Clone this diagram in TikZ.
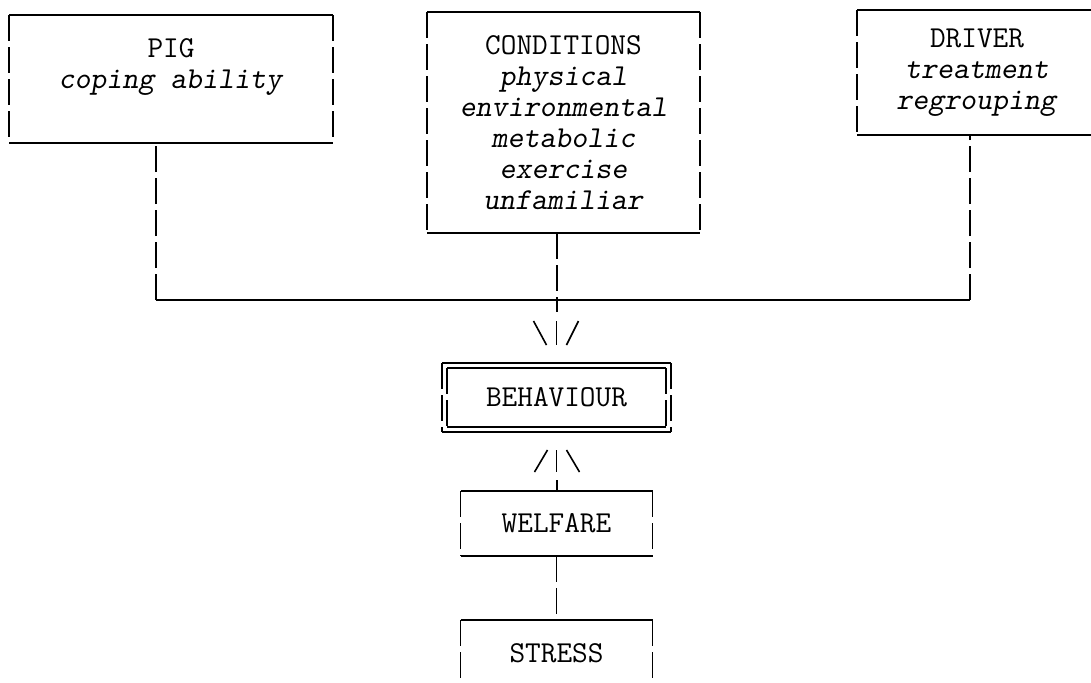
\documentclass[tikz,border=0pt]{standalone}
\usepackage{fontspec}
\usetikzlibrary{positioning,fit}

% typed box: solid top and bottom, dashed sides
\newcommand{\typebox}[1]{%
  \draw[topline] (#1.north west) -- (#1.north east);
  \draw[topline] (#1.south west) -- (#1.south east);
  \draw[sideline] (#1.north west) -- (#1.south west);
  \draw[sideline] (#1.north east) -- (#1.south east);
}

\begin{document}
\begin{tikzpicture}[x=0.5pt,y=-0.5pt,
  labelbox/.style={inner sep=0pt,outer sep=0pt,align=center,
                   font=\ttfamily\fontsize{15.2}{15.5}\selectfont},
  topline/.style={line width=1pt},
  sideline/.style={line width=0.8pt,dash pattern=on 13pt off 3pt},
  tickline/.style={line width=0.8pt},
  node distance=15pt
]
\useasboundingbox (0,0) rectangle (1091,682);

\node[labelbox,minimum width=162pt,minimum height=64pt] (pig) at (171,79)
  {PIG\\\textsl{coping ability}\\~};
\node[labelbox,minimum width=136.5pt,minimum height=110.5pt] (cond) at (563.5,122.5)
  {CONDITIONS\\\textsl{physical}\\\textsl{environmental}\\\textsl{metabolic}\\\textsl{exercise}\\\textsl{unfamiliar}};
\node[labelbox,minimum width=120pt,minimum height=62.5pt] (driver) at (977,72.5)
  {DRIVER\\\textsl{treatment}\\\textsl{regrouping}};
\node[labelbox,minimum width=109.5pt,minimum height=29.5pt] (behav) at (556.5,397.5) {BEHAVIOUR};
\node[fit=(behav),inner sep=2.5pt,outer sep=0pt] (behavout) {};
\node[labelbox,minimum width=96pt,minimum height=32.5pt,below=29.5pt of behavout] (welf) {WELFARE};
\node[labelbox,minimum width=96pt,minimum height=33pt,below=32pt of welf] (stress) {STRESS};

\typebox{pig}
\typebox{cond}
\typebox{driver}
\typebox{behav}
\typebox{behavout}
\typebox{welf}
\typebox{stress}

% joining line
\coordinate (jp) at (156,300);
\coordinate (jc) at (557,300);
\coordinate (jd) at (970,300);
\draw[sideline] (jp) -- (pig.south -| jp);
\draw[sideline] (jd) -- (driver.south -| jd);
\draw[sideline] (cond.south -| jc) -- ([yshift=-6pt]jc);
\draw[topline] (jp) -- (jd);

% typed arrows
\coordinate[above=of behavout.north] (downmark);
\draw[tickline] (downmark) ++(-23,-12) -- ++(13,24);
\draw[tickline] (downmark) ++(0,-12) -- ++(0,24);
\draw[tickline] (downmark) ++(22,-12) -- ++(-12,24);
\coordinate[above=of welf.north] (upmark);
\draw[tickline] (upmark) ++(-22,11) -- ++(13,-22);
\draw[tickline] (upmark) ++(0,-11) -- ++(0,22);
\draw[tickline] (upmark) ++(10,-11) -- ++(13,22);
\draw[topline] (welf.north) -- ++(0,-11);
\draw[sideline] (welf.south) -- (stress.north);
\end{tikzpicture}
\end{document}
